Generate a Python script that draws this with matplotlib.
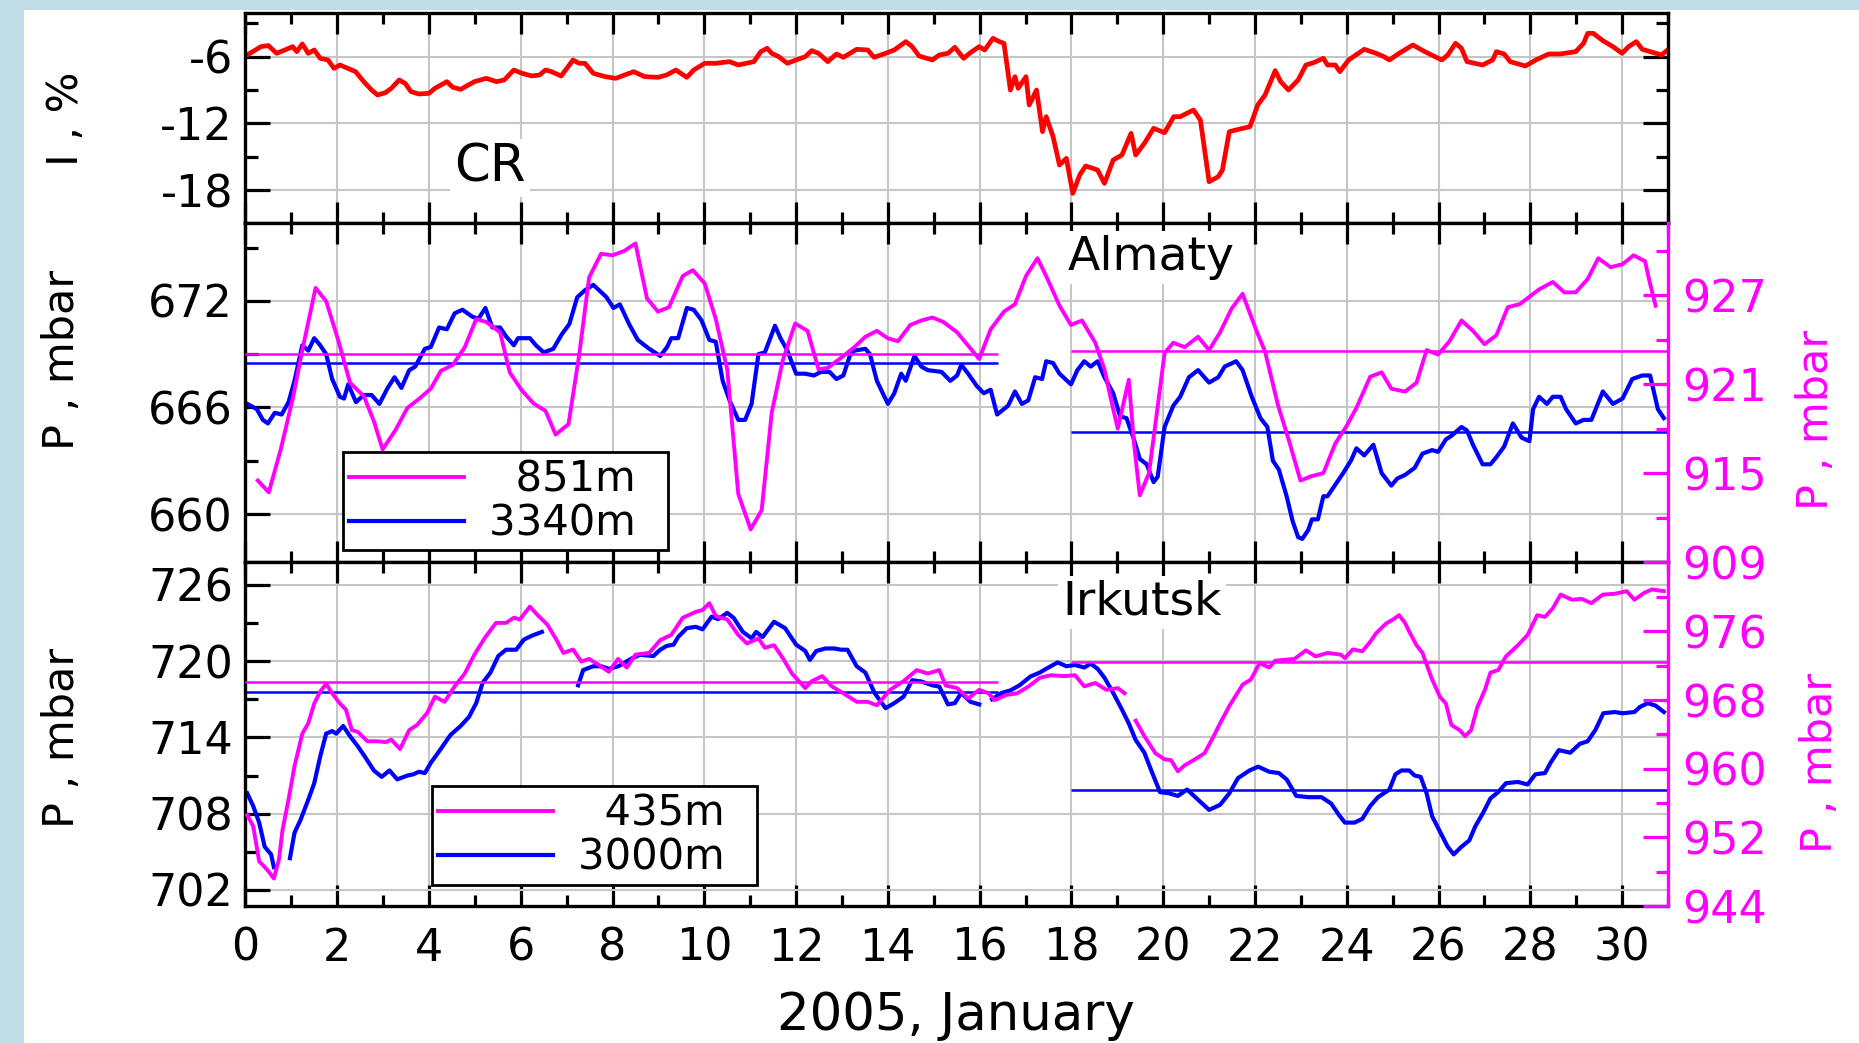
import numpy as np
import matplotlib
matplotlib.use('Agg')
import matplotlib.pyplot as plt
from matplotlib.ticker import MultipleLocator, FixedLocator
from matplotlib.patches import Rectangle

plt.rcParams['font.family'] = ['DejaVu Sans']
plt.rcParams['axes.unicode_minus'] = False

RED = '#ff0000'
MAG = '#ff00ff'
BLUE = '#0000ff'
nan = np.nan

# ---- cosmic rays, %
cr_day = [0.0, 0.34, 0.5, 0.68, 0.86, 1.03, 1.12, 1.24, 1.37, 1.5, 1.63, 1.8, 1.93, 2.06, 2.23, 2.4, 2.58, 2.75,
          2.88, 3.05, 3.18, 3.35, 3.48, 3.61, 3.78, 4.0, 4.13, 4.39, 4.52, 4.69, 4.86, 4.99, 5.25, 5.47, 5.64, 5.85,
          6.03, 6.24, 6.41, 6.54, 6.67, 6.88, 7.14, 7.27, 7.4, 7.58, 7.84, 8.07, 8.46, 8.7, 8.99, 9.18, 9.38, 9.62,
          9.77, 10.01, 10.25, 10.55, 10.74, 11.08, 11.23, 11.37, 11.47, 11.62, 11.81, 12.0, 12.2, 12.34, 12.49,
          12.69, 12.88, 13.03, 13.32, 13.56, 13.7, 13.95, 14.14, 14.39, 14.53, 14.68, 14.97, 15.12, 15.31, 15.46,
          15.65, 15.8, 15.99, 16.11, 16.29, 16.43, 16.53, 16.62, 16.67, 16.77, 16.84, 17.01, 17.08, 17.24, 17.37,
          17.45, 17.6, 17.74, 17.89, 18.03, 18.18, 18.31, 18.47, 18.57, 18.72, 18.91, 19.1, 19.3, 19.4, 19.59,
          19.79, 20.03, 20.23, 20.37, 20.66, 20.81, 21.0, 21.2, 21.29, 21.44, 21.73, 21.89, 22.06, 22.22, 22.44,
          22.56, 22.73, 22.94, 23.11, 23.28, 23.49, 23.58, 23.75, 23.85, 24.04, 24.38, 24.64, 24.81, 24.93, 25.14,
          25.44, 25.7, 26.07, 26.2, 26.37, 26.5, 26.62, 26.96, 27.18, 27.26, 27.43, 27.56, 27.89, 28.15, 28.4,
          28.65, 28.99, 29.16, 29.25, 29.37, 29.58, 29.8, 30.0, 30.14, 30.31, 30.44, 30.69, 30.86, 30.99]
cr_val = [-5.95, -5.1, -5.0, -5.7, -5.4, -5.1, -5.55, -4.86, -5.7, -5.4, -6.15, -6.3, -7.05, -6.75, -7.05, -7.35,
          -8.25, -9.0, -9.45, -9.24, -8.85, -8.1, -8.4, -9.15, -9.36, -9.3, -8.85, -8.25, -8.76, -8.94, -8.55,
          -8.25, -7.95, -8.25, -8.1, -7.2, -7.5, -7.74, -7.65, -7.2, -7.35, -7.74, -6.3, -6.6, -6.6, -7.5, -7.8,
          -7.95, -7.35, -7.8, -7.86, -7.65, -7.2, -7.86, -7.2, -6.6, -6.6, -6.45, -6.75, -6.45, -5.55, -5.25,
          -5.7, -6.0, -6.6, -6.3, -6.0, -5.46, -5.7, -6.45, -5.76, -6.06, -5.34, -5.4, -6.06, -5.7, -5.4, -4.65,
          -5.1, -5.94, -6.3, -5.85, -5.7, -5.16, -6.15, -5.64, -5.1, -5.4, -4.35, -4.65, -4.8, -7.5, -9.0, -7.8,
          -8.85, -7.8, -10.35, -9.0, -12.75, -11.4, -13.2, -15.75, -15.15, -18.3, -16.65, -15.84, -16.05, -16.2,
          -17.4, -15.3, -14.85, -12.9, -14.85, -13.8, -12.45, -12.84, -11.4, -11.4, -10.8, -11.7, -17.25, -16.8,
          -16.2, -12.75, -12.45, -12.3, -10.35, -9.45, -7.26, -8.25, -9.0, -8.1, -6.75, -6.54, -6.15, -6.75,
          -6.75, -7.35, -6.3, -5.34, -5.7, -6.0, -6.3, -5.7, -4.95, -5.55, -6.3, -5.85, -4.8, -5.25, -6.45, -6.75,
          -6.3, -5.55, -5.76, -6.45, -6.84, -6.24, -5.76, -5.76, -5.55, -4.8, -3.9, -3.9, -4.56, -5.1, -5.7,
          -5.1, -4.65, -5.34, -5.64, -5.85, -5.4]

# ---- Almaty, 3340 m (left axis)
alm_hi_day = [0.04, 0.25, 0.38, 0.49, 0.64, 0.79, 0.94, 1.07, 1.24, 1.37, 1.5, 1.63, 1.76, 1.89, 2.06, 2.15, 2.24,
              2.41, 2.58, 2.75, 2.92, 3.1, 3.25, 3.4, 3.57, 3.7, 3.91, 4.04, 4.22, 4.39, 4.56, 4.73, 4.95, 5.08,
              5.23, 5.38, 5.55, 5.68, 5.85, 5.94, 6.2, 6.33, 6.5, 6.71, 6.89, 7.06, 7.23, 7.4, 7.58, 7.79, 7.87,
              8.02, 8.16, 8.36, 8.55, 8.8, 9.04, 9.19, 9.28, 9.43, 9.62, 9.77, 9.94, 10.11, 10.25, 10.4, 10.55,
              10.74, 10.89, 11.03, 11.18, 11.32, 11.54, 11.66, 11.81, 12.0, 12.2, 12.39, 12.54, 12.73, 12.88, 13.03,
              13.17, 13.27, 13.51, 13.61, 13.76, 14.0, 14.14, 14.29, 14.39, 14.58, 14.73, 14.87, 15.17, 15.36,
              15.51, 15.6, 15.75, 15.94, 16.09, 16.24, 16.38, 16.62, 16.77, 16.92, 17.06, 17.21, 17.36, 17.45,
              17.6, 17.74, 17.99, 18.13, 18.28, 18.42, 18.57, 18.72, 18.91, 19.06, 19.2, 19.35, 19.49, 19.64,
              19.79, 19.88, 20.03, 20.22, 20.37, 20.56, 20.76, 21.0, 21.2, 21.34, 21.59, 21.73, 21.93, 22.12,
              22.27, 22.39, 22.52, 22.69, 22.82, 22.94, 23.03, 23.16, 23.24, 23.37, 23.49, 23.58, 23.71, 23.92,
              24.09, 24.21, 24.38, 24.58, 24.76, 24.97, 25.1, 25.27, 25.48, 25.65, 25.86, 25.99, 26.16, 26.28,
              26.5, 26.62, 26.75, 26.96, 27.13, 27.26, 27.43, 27.62, 27.81, 27.98, 28.06, 28.19, 28.36, 28.49,
              28.66, 28.78, 28.99, 29.16, 29.33, 29.58, 29.8, 30.01, 30.22, 30.44, 30.61, 30.78, 30.91]
alm_hi_p = [666.2, 665.9, 665.3, 665.1, 665.7, 665.6, 666.3, 667.5, 669.5, 669.2, 669.9, 669.5, 669.0, 667.6, 666.6,
            666.5, 667.3, 666.3, 666.7, 666.7, 666.2, 667.1, 667.7, 667.1, 668.1, 668.3, 669.3, 669.4, 670.5,
            670.4, 671.3, 671.5, 671.1, 671.0, 671.6, 670.5, 670.5, 670.0, 669.5, 669.9, 669.9, 669.5, 669.1,
            669.3, 670.1, 670.7, 672.2, 672.6, 672.9, 672.4, 672.2, 671.6, 671.8, 670.7, 669.8, 669.3, 668.9,
            669.4, 669.9, 669.9, 671.6, 671.5, 670.9, 669.8, 669.7, 667.5, 666.4, 665.3, 665.3, 666.2, 669.0,
            669.1, 670.6, 669.9, 669.2, 667.9, 667.9, 667.8, 668.0, 668.0, 667.6, 667.8, 668.9, 669.2, 669.3,
            669.0, 667.5, 666.2, 666.8, 667.9, 667.5, 668.9, 668.3, 668.1, 668.0, 667.5, 667.8, 668.4, 667.9,
            667.2, 666.8, 667.0, 665.6, 666.1, 666.9, 666.2, 666.4, 667.7, 667.6, 668.6, 668.5, 667.9, 667.3,
            668.1, 668.6, 668.3, 668.6, 667.7, 666.8, 665.5, 665.4, 664.3, 663.1, 662.8, 661.8, 662.1, 664.9,
            666.1, 666.6, 667.7, 668.1, 667.4, 667.7, 668.3, 668.6, 668.1, 666.6, 665.4, 664.9, 663.0, 662.5,
            661.0, 659.6, 658.7, 658.6, 659.1, 659.7, 659.7, 661.0, 661.0, 661.5, 662.3, 663.0, 663.7, 663.3,
            663.9, 662.3, 661.6, 662.0, 662.2, 662.6, 663.4, 663.6, 663.5, 664.2, 664.4, 664.9, 664.7, 663.9,
            662.8, 662.8, 663.2, 663.8, 665.1, 664.3, 664.1, 665.9, 666.6, 666.2, 666.6, 666.6, 665.9, 665.1,
            665.3, 665.3, 666.9, 666.2, 666.5, 667.6, 667.8, 667.8, 665.9, 665.4]

# ---- Almaty, 851 m (right axis)
alm_lo_day = [0.27, 0.51, 0.77, 1.03, 1.24, 1.53, 1.76, 2.02, 2.28, 2.58, 2.8, 2.99, 3.27, 3.53, 3.78, 4.04, 4.26,
              4.52, 4.78, 5.03, 5.25, 5.55, 5.76, 6.02, 6.28, 6.54, 6.76, 7.04, 7.27, 7.49, 7.75, 8.0, 8.26, 8.5,
              8.75, 8.99, 9.23, 9.53, 9.75, 10.01, 10.25, 10.5, 10.74, 11.01, 11.25, 11.47, 11.71, 11.98, 12.25,
              12.49, 12.69, 13.03, 13.27, 13.51, 13.76, 14.0, 14.22, 14.49, 14.73, 14.97, 15.21, 15.51, 15.75,
              15.99, 16.24, 16.53, 16.77, 17.01, 17.26, 17.45, 17.74, 17.99, 18.23, 18.52, 18.72, 18.86, 19.01,
              19.25, 19.37, 19.49, 19.69, 19.88, 20.03, 20.22, 20.47, 20.76, 21.0, 21.24, 21.49, 21.73, 22.02,
              22.22, 22.5, 22.74, 22.99, 23.24, 23.49, 23.75, 24.0, 24.21, 24.51, 24.76, 24.97, 25.27, 25.52,
              25.74, 25.99, 26.24, 26.5, 26.75, 27.0, 27.26, 27.51, 27.77, 28.19, 28.49, 28.74, 28.99, 29.25,
              29.48, 29.75, 30.01, 30.25, 30.5, 30.6, 30.73]
alm_lo_p = [914.5, 913.7, 916.6, 920.0, 923.3, 927.5, 926.6, 924.0, 921.1, 920.2, 918.5, 916.6, 917.9, 919.4,
            920.0, 920.7, 921.9, 922.3, 923.5, 925.4, 925.2, 924.5, 921.8, 920.6, 919.7, 919.2, 917.6, 918.3,
            922.9, 928.2, 929.8, 929.7, 930.0, 930.5, 926.8, 925.9, 926.2, 928.3, 928.7, 927.8, 925.4, 922.0,
            913.6, 911.2, 912.5, 919.1, 922.6, 925.1, 924.6, 922.0, 922.1, 922.9, 923.5, 924.2, 924.6, 924.1,
            923.9, 925.0, 925.3, 925.5, 925.2, 924.5, 923.6, 922.7, 924.7, 925.9, 926.4, 928.3, 929.5, 928.3,
            926.3, 925.0, 925.3, 923.8, 922.0, 920.0, 918.0, 921.3, 916.8, 913.5, 915.0, 919.5, 923.1, 923.8,
            923.5, 924.2, 923.3, 924.5, 926.1, 927.1, 924.7, 923.2, 919.6, 917.2, 914.5, 914.8, 915.0, 917.0,
            918.2, 919.4, 921.5, 921.8, 920.7, 920.5, 921.1, 923.3, 923.0, 923.9, 925.3, 924.6, 923.7, 924.3,
            926.2, 926.4, 927.4, 927.9, 927.2, 927.2, 928.1, 929.5, 928.9, 929.1, 929.7, 929.3, 927.9, 926.3]

# ---- Irkutsk, 3000 m (left axis), gaps as nan
irk_hi_day = [0.04, 0.17, 0.3, 0.42, 0.56, 0.62, 0.8, 0.97, 1.07, 1.2, 1.37, 1.5, 1.63, 1.76, 1.89, 1.98, 2.13,
              2.28, 2.45, 2.62, 2.8, 2.97, 3.14, 3.31, 3.53, 3.66, 3.78, 3.91, 4.04, 4.22, 4.47, 4.69, 4.87, 5.03,
              5.17, 5.34, 5.51, 5.68, 5.9, 6.07, 6.24, 6.46, 6.9, 7.25, 7.36, 7.58, 7.75, 7.92, 8.13, 8.41, 8.6,
              8.89, 9.04, 9.18, 9.33, 9.43, 9.62, 9.82, 9.96, 10.16, 10.3, 10.5, 10.64, 10.84, 11.03, 11.13, 11.27,
              11.52, 11.76, 12.0, 12.2, 12.3, 12.44, 12.64, 12.83, 12.98, 13.12, 13.32, 13.51, 13.71, 13.95, 14.14,
              14.34, 14.53, 14.73, 14.97, 15.12, 15.31, 15.46, 15.6, 15.8, 15.99, 16.13, 16.27, 16.48, 16.67,
              16.87, 17.11, 17.31, 17.45, 17.7, 17.89, 18.08, 18.28, 18.42, 18.57, 18.72, 18.91, 19.1, 19.25,
              19.4, 19.59, 19.74, 19.93, 20.13, 20.32, 20.52, 20.76, 21.0, 21.24, 21.44, 21.63, 21.88, 22.07,
              22.31, 22.52, 22.69, 22.9, 23.16, 23.45, 23.66, 23.83, 23.96, 24.17, 24.34, 24.51, 24.68, 24.93,
              25.06, 25.19, 25.36, 25.48, 25.61, 25.74, 25.86, 26.03, 26.2, 26.33, 26.5, 26.67, 26.8, 26.96,
              27.13, 27.3, 27.47, 27.73, 27.94, 28.11, 28.32, 28.44, 28.62, 28.87, 29.08, 29.25, 29.42, 29.59,
              29.84, 30.01, 30.27, 30.39, 30.56, 30.73, 30.91]
irk_hi_p = [709.6, 708.6, 707.3, 705.4, 704.8, 703.8, nan, 704.5, 706.5, 707.5, 709.1, 710.4, 712.5, 714.3, 714.5,
            714.3, 714.9, 714.1, 713.3, 712.4, 711.4, 710.9, 711.4, 710.7, 711.0, 711.1, 711.3, 711.2, 712.0,
            712.9, 714.2, 714.9, 715.6, 716.7, 718.3, 719.1, 720.4, 720.9, 720.9, 721.7, 722.0, 722.3, nan,
            718.1, 719.3, 719.6, 719.6, 719.4, 719.6, 720.2, 720.5, 720.4, 720.9, 721.2, 721.3, 721.9, 722.6,
            722.7, 722.5, 723.5, 723.3, 723.8, 723.4, 722.3, 721.8, 722.3, 721.9, 723.1, 722.6, 721.3, 720.8,
            720.1, 720.8, 721.0, 721.0, 720.9, 720.9, 719.6, 719.1, 717.5, 716.3, 716.7, 717.2, 718.5, 718.4,
            718.1, 718.0, 716.6, 716.7, 717.5, 716.8, 716.6, nan, 717.0, 717.5, 717.7, 718.1, 718.8, 719.1,
            719.4, 719.9, 719.6, 719.7, 719.5, 719.8, 719.4, 718.7, 717.5, 716.2, 715.1, 713.8, 712.8, 711.4,
            709.7, 709.6, 709.4, 709.9, 709.1, 708.3, 708.7, 709.6, 710.8, 711.4, 711.7, 711.3, 711.2, 710.7,
            709.4, 709.3, 709.3, 708.8, 707.9, 707.3, 707.3, 707.6, 708.6, 709.3, 709.9, 711.1, 711.4, 711.4,
            711.0, 710.9, 709.6, 707.8, 706.6, 705.4, 704.8, 705.4, 705.9, 707.0, 708.0, 709.2, 709.7, 710.4,
            710.5, 710.3, 711.1, 711.2, 712.0, 713.0, 712.8, 713.5, 713.7, 714.6, 715.9, 716.0, 715.9, 716.0,
            716.4, 716.7, 716.5, 716.0]

# ---- Irkutsk, 435 m (right axis)
irk_lo_day = [0.04, 0.17, 0.3, 0.41, 0.51, 0.62, 0.73, 0.81, 0.94, 1.07, 1.24, 1.37, 1.5, 1.63, 1.76, 1.89, 2.06,
              2.19, 2.32, 2.45, 2.66, 2.88, 3.06, 3.18, 3.37, 3.57, 3.74, 3.96, 4.13, 4.34, 4.56, 4.78, 4.99, 5.21,
              5.46, 5.68, 5.85, 5.98, 6.2, 6.37, 6.58, 6.76, 6.93, 7.14, 7.32, 7.49, 7.7, 7.92, 8.12, 8.31, 8.5,
              8.8, 9.04, 9.28, 9.53, 9.82, 9.96, 10.11, 10.25, 10.5, 10.74, 10.93, 11.18, 11.32, 11.52, 11.71,
              11.91, 12.2, 12.34, 12.57, 12.78, 13.03, 13.32, 13.56, 13.76, 14.05, 14.34, 14.63, 14.87, 15.12,
              15.26, 15.51, 15.75, 15.99, 16.19, 16.33, 16.58, 16.82, 17.07, 17.31, 17.55, 17.84, 18.08, 18.28,
              18.52, 18.76, 19.01, 19.16, 19.28, 19.4, 19.59, 19.83, 20.03, 20.17, 20.32, 20.47, 20.66, 20.9,
              21.1, 21.24, 21.44, 21.73, 21.91, 22.1, 22.31, 22.44, 22.86, 23.11, 23.32, 23.58, 23.87, 23.96,
              24.13, 24.34, 24.51, 24.64, 24.85, 25.01, 25.14, 25.27, 25.36, 25.52, 25.65, 25.86, 26.03, 26.16,
              26.28, 26.46, 26.58, 26.71, 26.84, 27.01, 27.13, 27.3, 27.47, 27.73, 27.94, 28.15, 28.32, 28.49,
              28.66, 28.91, 29.12, 29.33, 29.58, 29.84, 30.1, 30.27, 30.48, 30.65, 30.91]
irk_lo_p = [954.6, 953.3, 949.2, 948.6, 948.0, 947.2, 949.4, 952.9, 956.4, 960.3, 964.1, 965.3, 967.6, 969.0,
            969.9, 968.8, 967.6, 966.9, 964.5, 964.3, 963.2, 963.2, 963.1, 963.4, 962.3, 964.5, 965.1, 966.5,
            968.4, 967.8, 969.6, 971.1, 973.3, 975.2, 977.0, 977.0, 977.6, 977.4, 978.9, 977.9, 976.8, 975.2,
            973.5, 973.9, 972.5, 972.8, 972.1, 971.3, 972.8, 971.8, 973.3, 973.5, 975.0, 975.6, 977.6, 978.3,
            978.5, 979.3, 977.8, 977.4, 975.6, 974.6, 975.2, 974.1, 974.4, 972.9, 971.1, 969.4, 970.2, 970.8,
            969.6, 968.8, 967.8, 967.8, 967.4, 969.2, 970.2, 971.5, 971.1, 971.5, 969.7, 969.4, 968.2, 969.2,
            968.8, 968.0, 968.6, 968.8, 969.6, 970.6, 970.9, 970.8, 970.9, 969.6, 970.0, 969.2, 969.4, 968.8,
            nan, 965.6, 963.8, 961.8, 961.1, 961.0, 959.7, 960.4, 961.0, 961.8, 963.8, 965.3, 967.3, 969.8,
            970.4, 972.3, 971.8, 972.6, 972.8, 973.8, 973.1, 973.5, 973.3, 972.9, 973.9, 973.7, 974.8, 975.8,
            976.9, 977.4, 977.9, 977.0, 976.0, 974.4, 973.5, 970.4, 968.4, 967.6, 965.1, 964.5, 963.8, 964.5,
            967.1, 969.2, 971.2, 971.5, 973.1, 974.4, 975.6, 977.9, 977.7, 978.7, 980.3, 979.7, 979.8, 979.3,
            980.3, 980.4, 980.7, 979.7, 980.5, 980.9, 980.7]

# ---- mean levels (before / after day 18)
mean_spans = [(0.0, 16.4), (18.0, 31.0)]
alm_lo_mean = [923.05, 923.27]
alm_hi_mean = [668.52, 664.6]
irk_lo_mean = [970.09, 972.42]
irk_hi_mean = [717.55, 709.9]

TICK = 32
NAME = 34

fig = plt.figure(figsize=(18.59, 10.43), dpi=100, facecolor='#c0dce6')
fig.patches.append(Rectangle((24 / 1859, 0), 1, 1 - 10 / 1043, transform=fig.transFigure,
                             facecolor='white', edgecolor='none', zorder=-10))

L, W = 245.4 / 1859, (1668 - 245.4) / 1859
ax1 = fig.add_axes([L, 1 - 222.7 / 1043, W, (222.7 - 13.3) / 1043])
ax2 = fig.add_axes([L, 1 - 562 / 1043, W, (562 - 222.7) / 1043], sharex=ax1)
ax3 = fig.add_axes([L, 1 - 906 / 1043, W, (906 - 562) / 1043], sharex=ax1)


def style(ax):
    ax.set_xlim(0, 31)
    ax.xaxis.set_major_locator(MultipleLocator(2))
    ax.xaxis.set_minor_locator(MultipleLocator(1))
    ax.tick_params(axis='x', which='both', direction='in', top=True, bottom=True, width=2.3,
                   labelsize=TICK, pad=15)
    ax.tick_params(axis='x', which='major', length=15)
    ax.tick_params(axis='x', which='minor', length=8)
    ax.tick_params(axis='y', which='both', direction='in', width=2.3, labelsize=TICK, pad=9)
    ax.tick_params(axis='y', which='major', length=18)
    ax.tick_params(axis='y', which='minor', length=9)
    ax.grid(True, which='major', color='#c6c6c6', linewidth=1.5)
    ax.set_axisbelow(True)
    for s in ax.spines.values():
        s.set_linewidth(2.4)


def style_twin(tw):
    for side in ['left', 'top', 'bottom']:
        tw.spines[side].set_visible(False)
    tw.spines['right'].set_color(MAG)
    tw.spines['right'].set_linewidth(2.4)
    tw.tick_params(axis='y', which='both', direction='in', colors=MAG, width=2.3, labelsize=TICK, pad=10)
    tw.tick_params(axis='y', which='major', length=18)
    tw.tick_params(axis='y', which='minor', length=9)


def legend_box(tw, handles, labels, anchor):
    leg = tw.legend(handles, labels, loc='upper left', bbox_to_anchor=anchor, fontsize=30, fancybox=False,
                    edgecolor='black', framealpha=1, handlelength=2.75, labelspacing=0.05, borderpad=0.15,
                    handletextpad=0.6, borderaxespad=0)
    leg.get_frame().set_linewidth(2.0)
    return leg


# top panel: CR
style(ax1)
ax1.plot(cr_day, cr_val, color=RED, lw=3.4)
ax1.set_ylim(-20.94, -2.1)
ax1.yaxis.set_major_locator(MultipleLocator(6))
ax1.yaxis.set_minor_locator(MultipleLocator(3))
ax1.tick_params(axis='y', which='both', right=True)
ax1.tick_params(axis='x', labelbottom=False)
ax1.text(0.172, 0.196, 'CR', transform=ax1.transAxes, fontsize=37, ha='center', va='baseline',
         bbox=dict(facecolor='white', edgecolor='none', pad=3))

# middle panel: Almaty
style(ax2)
ax2.spines['right'].set_visible(False)
ax2.tick_params(axis='x', labelbottom=False)
l_hi, = ax2.plot(alm_hi_day, alm_hi_p, color=BLUE, lw=3.0)
for (a, b), m in zip(mean_spans, alm_hi_mean):
    ax2.hlines(m, a, b, color=BLUE, lw=1.8)
ax2.set_ylim(657.3, 676.4)
ax2.yaxis.set_major_locator(MultipleLocator(6))
ax2.yaxis.set_minor_locator(MultipleLocator(3))
tw2 = ax2.twinx()
style_twin(tw2)
l_lo, = tw2.plot(alm_lo_day, alm_lo_p, color=MAG, lw=2.8)
for (a, b), m in zip(mean_spans, alm_lo_mean):
    tw2.hlines(m, a, b, color=MAG, lw=1.8)
tw2.set_ylim(909, 931.9)
tw2.yaxis.set_major_locator(FixedLocator([909, 915, 921, 927]))
tw2.yaxis.set_minor_locator(FixedLocator([912, 918, 924, 930]))
tw2.text(0.6366, 0.861, 'Almaty', transform=tw2.transAxes, fontsize=NAME, ha='center', va='baseline',
         bbox=dict(facecolor='white', edgecolor='none', pad=3))
legend_box(tw2, [l_lo, l_hi], ['  851m  ', '3340m  '], (0.0686, 0.3245))

# bottom panel: Irkutsk
style(ax3)
ax3.spines['right'].set_visible(False)
b_hi, = ax3.plot(irk_hi_day, irk_hi_p, color=BLUE, lw=3.0)
for (a, b), m in zip(mean_spans, irk_hi_mean):
    ax3.hlines(m, a, b, color=BLUE, lw=1.8)
ax3.set_ylim(700.74, 727.8)
ax3.yaxis.set_major_locator(MultipleLocator(6))
ax3.yaxis.set_minor_locator(MultipleLocator(3))
tw3 = ax3.twinx()
style_twin(tw3)
b_lo, = tw3.plot(irk_lo_day, irk_lo_p, color=MAG, lw=2.8)
for (a, b), m in zip(mean_spans, irk_lo_mean):
    tw3.hlines(m, a, b, color=MAG, lw=1.8)
tw3.set_ylim(944, 984.1)
tw3.yaxis.set_major_locator(FixedLocator([944, 952, 960, 968, 976]))
tw3.yaxis.set_minor_locator(FixedLocator([948, 956, 964, 972, 980]))
tw3.text(0.630, 0.846, 'Irkutsk', transform=tw3.transAxes, fontsize=NAME, ha='center', va='baseline',
         bbox=dict(facecolor='white', edgecolor='none', pad=3))
legend_box(tw3, [b_lo, b_hi], ['  435m  ', '3000m  '], (0.1312, 0.3488))

# axis titles
fig.text(956 / 1859, 1 - 1016 / 1043, '2005, January', ha='center', va='center', fontsize=37)
fig.text(66 / 1859, 1 - 119 / 1043, 'I , %', rotation=90, ha='center', va='center', fontsize=31)
fig.text(62 / 1859, 1 - 360 / 1043, 'P , mbar', rotation=90, ha='center', va='center', fontsize=31)
fig.text(62 / 1859, 1 - 738 / 1043, 'P , mbar', rotation=90, ha='center', va='center', fontsize=31)
fig.text(1816 / 1859, 1 - 420 / 1043, 'P , mbar', rotation=90, ha='center', va='center', fontsize=31,
         color=MAG)
fig.text(1820 / 1859, 1 - 763 / 1043, 'P , mbar', rotation=90, ha='center', va='center', fontsize=31,
         color=MAG)

fig.savefig('out.png', dpi=100, facecolor=fig.get_facecolor())
